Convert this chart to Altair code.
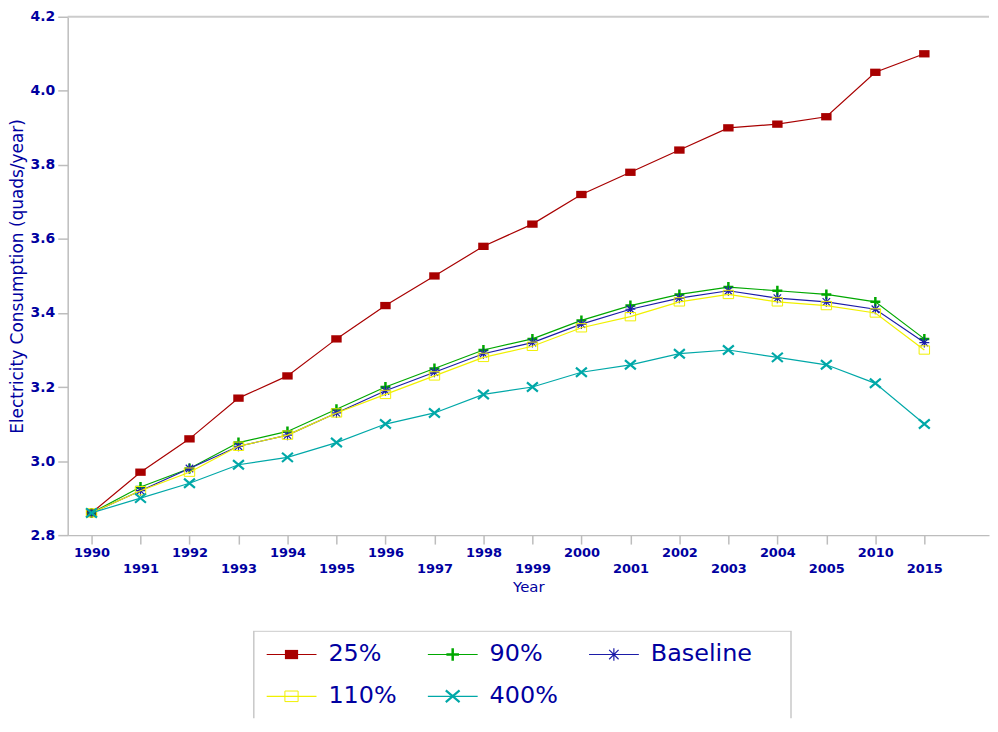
import altair as alt
import pandas as pd

years = ["1990", "1991", "1992", "1993", "1994", "1995", "1996", "1997", "1998",
         "1999", "2000", "2001", "2002", "2003", "2004", "2005", "2010", "2015"]
series = ["25%", "90%", "Baseline", "110%", "400%"]

v25 = [2.86, 2.97, 3.06, 3.17, 3.23, 3.33, 3.42, 3.50, 3.58, 3.64, 3.72, 3.78, 3.84, 3.90, 3.91, 3.93, 4.05, 4.10]
v90 = [2.86, 2.93, 2.98, 3.05, 3.08, 3.14, 3.20, 3.25, 3.30, 3.33, 3.38, 3.42, 3.45, 3.47, 3.46, 3.45, 3.43, 3.33]
vbase = [2.86, 2.92, 2.98, 3.04, 3.07, 3.13, 3.19, 3.24, 3.29, 3.32, 3.37, 3.41, 3.44, 3.46, 3.44, 3.43, 3.41, 3.32]
v110 = [2.86, 2.92, 2.97, 3.04, 3.07, 3.13, 3.18, 3.23, 3.28, 3.31, 3.36, 3.39, 3.43, 3.45, 3.43, 3.42, 3.40, 3.30]
v400 = [2.86, 2.90, 2.94, 2.99, 3.01, 3.05, 3.10, 3.13, 3.18, 3.20, 3.24, 3.26, 3.29, 3.30, 3.28, 3.26, 3.21, 3.10]
values = [v25, v90, vbase, v110, v400]

colors = ["#a80000", "#00a800", "#1c1ca8", "#f0f000", "#00a8a8"]
shapes = [
    "M-1,-0.7L1,-0.7L1,0.7L-1,0.7Z",
    "M-1,0L1,0M0,-1L0,1",
    "M-1,0L1,0M0,-1L0,1M-0.75,-0.75L0.75,0.75M-0.75,0.75L0.75,-0.75",
    "M-1,-0.8L1,-0.8L1,0.8L-1,0.8Z",
    "M-1,-0.85L1,0.85M-1,0.85L1,-0.85",
]
filled = [True, False, False, False, False]
msize = [110, 100, 100, 110, 120]
mstroke = [1, 2.5, 1.2, 1, 2.2]

TEXT = "#0000a0"
GRAY = "#bdbdbd"
FONT = "DejaVu Sans"

rows = []
for s, vals in zip(series, values):
    for i, (y, v) in enumerate(zip(years, vals)):
        rows.append({"series": s, "i": i, "year": y, "value": v})
df = pd.DataFrame(rows)

yrs_js = "[" + ",".join(f"'{y}'" for y in years) + "]"
label_expr = f"datum.value % 2 == 1 ? ['', {yrs_js}[datum.value]] : {yrs_js}[datum.value]"

PW = 926
xscale = alt.Scale(domain=[-0.486, 18.32], nice=False, zero=False)
yscale = alt.Scale(domain=[2.8, 4.2], nice=False, zero=False)

xaxis = alt.Axis(values=list(range(len(years))), labelExpr=label_expr, title="Year",
                 labelOverlap=False, labelFlush=False, labelBound=False, grid=False,
                 tickSize=9, labelPadding=2, labelLineHeight=17, labelFontSize=13,
                 labelFontWeight="bold", titleFontSize=15, titleFontWeight="normal",
                 titlePadding=4)
yaxis = alt.Axis(values=[2.8, 3.0, 3.2, 3.4, 3.6, 3.8, 4.0, 4.2], format=".1f",
                 title="Electricity Consumption (quads/year)", grid=False,
                 tickSize=10, labelPadding=3, labelFontSize=14, labelFontWeight="bold",
                 titleFontSize=17, titleFontWeight="normal", titlePadding=4)

base = alt.Chart(df)
top_rule = alt.Chart(pd.DataFrame({"v": [4.2]})).mark_rule(color="#cccccc", strokeWidth=2).encode(
    y=alt.Y("v:Q", scale=yscale, axis=yaxis)
)
layers = [top_rule]
for k, s in enumerate(series):
    sub = base.transform_filter(alt.datum.series == s)
    line = sub.mark_line(color=colors[k], strokeWidth=1.2).encode(
        x=alt.X("i:Q", scale=xscale, axis=xaxis),
        y=alt.Y("value:Q", scale=yscale, axis=yaxis),
    )
    pts = sub.mark_point(shape=shapes[k], filled=filled[k], color=colors[k],
                         size=msize[k], strokeWidth=mstroke[k], opacity=1).encode(
        x=alt.X("i:Q", scale=xscale, axis=xaxis),
        y=alt.Y("value:Q", scale=yscale, axis=yaxis),
    )
    layers += [line, pts]

plot = alt.layer(*layers).properties(width=PW, height=521)

# legend panel
leg = pd.DataFrame({
    "series": series,
    "col": [k % 3 for k in range(len(series))],
    "row": [k // 3 for k in range(len(series))],
})
leg["lx0"] = leg["col"]
leg["lx1"] = leg["col"] + 0.309
leg["mx"] = leg["col"] + 0.154
leg["tx"] = leg["col"] + 0.383

LH = 88
lxs = alt.Scale(domain=[-1.2346, -1.2346 + PW / 162], nice=False, zero=False)
lys = alt.Scale(domain=[-24 / 42, (LH - 24) / 42], nice=False, zero=False, reverse=True)

box = alt.Chart(pd.DataFrame({"a": [-0.080], "b": [3.253], "c": [-0.56], "d": [2.5]})).mark_rect(
    fill=None, stroke="#c8c8c8", strokeWidth=1.5, clip=True).encode(
    x=alt.X("a:Q", scale=lxs, axis=None), x2="b:Q",
    y=alt.Y("c:Q", scale=lys, axis=None), y2="d:Q")

leg_layers = [box]
for k, s in enumerate(series):
    sub = alt.Chart(leg).transform_filter(alt.datum.series == s)
    leg_layers.append(sub.mark_rule(color=colors[k], strokeWidth=1.2).encode(
        x=alt.X("lx0:Q", scale=lxs, axis=None), x2="lx1:Q",
        y=alt.Y("row:Q", scale=lys, axis=None)))
    leg_layers.append(sub.mark_point(shape=shapes[k], filled=filled[k], color=colors[k],
                                     size=msize[k] * 1.6, strokeWidth=mstroke[k], opacity=1).encode(
        x=alt.X("mx:Q", scale=lxs, axis=None),
        y=alt.Y("row:Q", scale=lys, axis=None)))
    leg_layers.append(sub.mark_text(align="left", baseline="middle", fontSize=24,
                                    font=FONT, color=TEXT).encode(
        x=alt.X("tx:Q", scale=lxs, axis=None),
        y=alt.Y("row:Q", scale=lys, axis=None),
        text="series:N"))

legend = alt.layer(*leg_layers).properties(width=PW, height=LH)

chart = alt.vconcat(plot, legend, spacing=36).properties(
    padding={"left": 0, "top": 0, "right": 0, "bottom": 0}
).configure_view(stroke=None).configure_axis(
    labelColor=TEXT, titleColor=TEXT, labelFont=FONT, titleFont=FONT,
    domainColor=GRAY, tickColor=GRAY, domainWidth=1.5, tickWidth=1.5
).configure_concat(spacing=36)

chart.save("out.html", embed_options={"renderer": "svg", "actions": False})
